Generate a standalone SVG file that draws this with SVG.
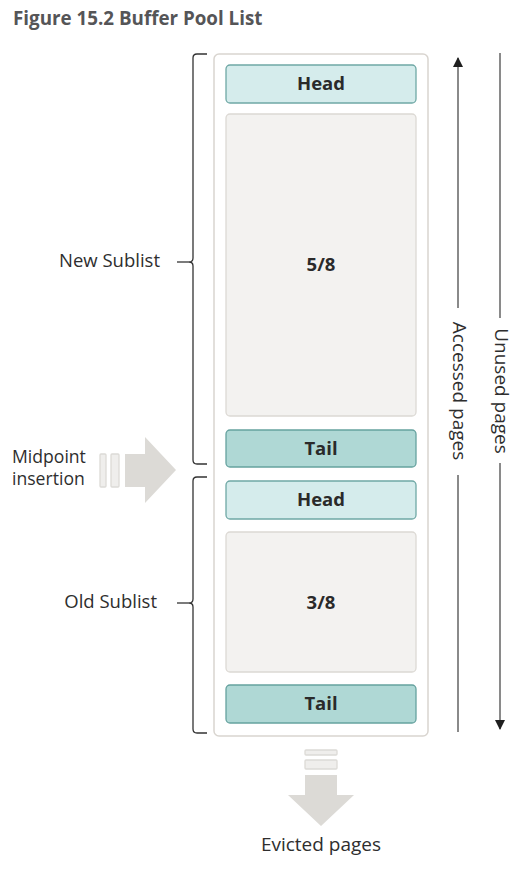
<svg xmlns="http://www.w3.org/2000/svg" width="530" height="870" viewBox="0 0 530 870">
<style>
.title{font-family:"Open Sans","Liberation Sans",sans-serif;font-weight:bold;font-size:18.8px;fill:#555557}
.lbl{font-family:"Open Sans","Liberation Sans",sans-serif;font-size:18.5px;fill:#2e2e2e}
.cell{font-family:"Open Sans","Liberation Sans",sans-serif;font-weight:bold;font-size:18.5px;fill:#2a2a2a;text-anchor:middle}
.head{fill:#d5ecec;stroke:#6fa8a5;stroke-width:1.3}
.tail{fill:#afd8d5;stroke:#66a29f;stroke-width:1.3}
.body{fill:#f3f2f0;stroke:#dcd9d4;stroke-width:1.3}
.frame{fill:#ffffff;stroke:#d9d5d0;stroke-width:1.5}
.brace{fill:none;stroke:#333333;stroke-width:1.3}
.vline{stroke:#8a8a8a;stroke-width:2;fill:none}
.big{fill:#dcdad6}
.bar{fill:#efeeec;stroke:#dcdad6;stroke-width:1.3}
</style>
<defs>
<marker id="ah" viewBox="0 0 10 10" refX="9" refY="5" markerWidth="5" markerHeight="5" orient="auto" markerUnits="strokeWidth">
<path d="M0,0 L10,5 L0,10 z" fill="#1f1f1f"/>
</marker>
</defs>
<text class="title" x="13" y="25">Figure 15.2 Buffer Pool List</text>

<g id="frame"><rect class="frame" x="214" y="54" width="214" height="682" rx="5"/></g>

<g id="new-head"><rect class="head" x="226" y="65" width="190" height="38" rx="4"/><text class="cell" x="321" y="90">Head</text></g>
<g id="new-body"><rect class="body" x="226" y="114" width="190" height="302" rx="4"/><text class="cell" x="321" y="271">5/8</text></g>
<g id="new-tail"><rect class="tail" x="226" y="430" width="190" height="37" rx="4"/><text class="cell" x="321" y="455">Tail</text></g>
<g id="old-head"><rect class="head" x="226" y="481" width="190" height="38" rx="4"/><text class="cell" x="321" y="506">Head</text></g>
<g id="old-body"><rect class="body" x="226" y="532" width="190" height="140" rx="4"/><text class="cell" x="321" y="609">3/8</text></g>
<g id="old-tail"><rect class="tail" x="226" y="685" width="190" height="38" rx="4"/><text class="cell" x="321" y="710">Tail</text></g>

<g id="new-sublist">
<path class="brace" d="M207,54 H197 Q193,54 193,58 V258 Q193,262 189,262 Q193,262 193,266 V460 Q193,464 197,464 H207"/>
<path class="brace" d="M177,262 H189"/>
<text class="lbl" x="160" y="267" text-anchor="end">New Sublist</text>
</g>
<g id="old-sublist">
<path class="brace" d="M207,477 H197 Q193,477 193,481 V599 Q193,603 189,603 Q193,603 193,607 V729 Q193,733 197,733 H207"/>
<path class="brace" d="M177,603 H189"/>
<text class="lbl" x="157" y="608" text-anchor="end">Old Sublist</text>
</g>

<g id="midpoint">
<text class="lbl" x="12" y="463" style="font-size:17.6px">Midpoint</text>
<text class="lbl" x="12" y="485" style="font-size:17.6px">insertion</text>
<rect class="bar" x="100" y="454" width="6" height="33" rx="1"/>
<rect class="bar" x="111" y="454" width="8" height="33" rx="1"/>
<path class="big" d="M125,454 H145 V437 L176,470 L145,503 V487 H125 Z"/>
</g>

<g id="evicted">
<rect class="bar" x="305" y="750" width="32" height="5" rx="1"/>
<rect class="bar" x="305" y="760" width="32" height="9" rx="1"/>
<path class="big" d="M305,775 H337 V795 H354 L321,826 L288,795 H305 Z"/>
<text class="lbl" x="321" y="851" text-anchor="middle" style="font-size:19px">Evicted pages</text>
</g>

<g id="connectors">
<line class="vline" x1="458" y1="308" x2="458" y2="58" marker-end="url(#ah)"/>
<line class="vline" x1="458" y1="475" x2="458" y2="732"/>
<line class="vline" x1="500" y1="53" x2="500" y2="318"/>
<line class="vline" x1="500" y1="463" x2="500" y2="729" marker-end="url(#ah)"/>
</g>
<text class="lbl" transform="translate(453,391) rotate(90)" text-anchor="middle" style="font-size:19px">Accessed pages</text>
<text class="lbl" transform="translate(495,391) rotate(90)" text-anchor="middle" style="font-size:19px">Unused pages</text>
</svg>
